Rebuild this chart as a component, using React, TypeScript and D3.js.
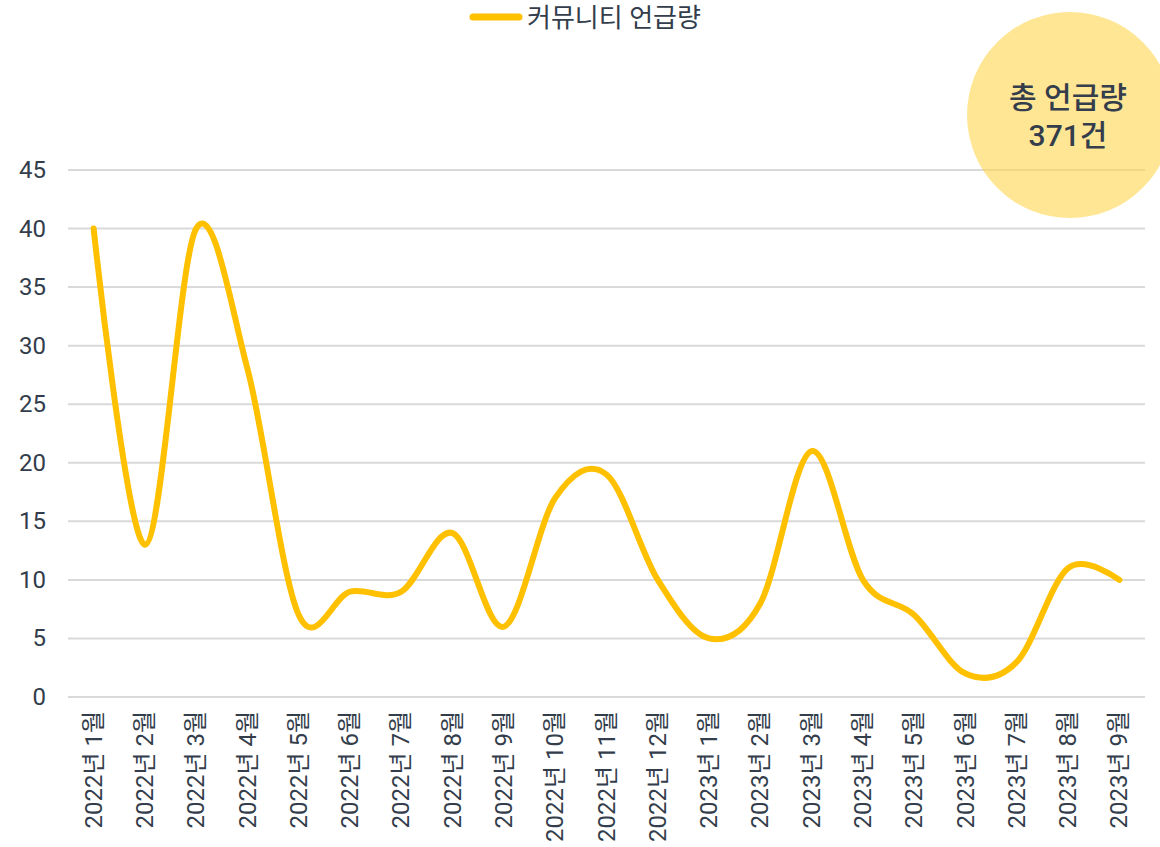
import React from "react";
import * as d3 from "d3";

const categories = [
  "2022년 1월", "2022년 2월", "2022년 3월", "2022년 4월", "2022년 5월", "2022년 6월",
  "2022년 7월", "2022년 8월", "2022년 9월", "2022년 10월", "2022년 11월", "2022년 12월",
  "2023년 1월", "2023년 2월", "2023년 3월", "2023년 4월", "2023년 5월", "2023년 6월",
  "2023년 7월", "2023년 8월", "2023년 9월",
];
const values = [40, 13, 40, 28, 7, 9, 9, 14, 6, 17, 19, 10, 5, 8, 21, 10, 7, 2, 3, 11, 10];
const yTicks = [0, 5, 10, 15, 20, 25, 30, 35, 40, 45];
const seriesName = "커뮤니티 언급량";
const badgeLines = ["총 언급량", "371건"];

const W = 1160;
const H = 847;
const left = 68;
const right = 1145;
const top = 170;
const bottom = 697;
const textColor = "#333d4b";
const font = "Roboto, 'Noto Sans CJK KR', sans-serif";

export default function App() {
  const x = d3.scaleBand<string>().domain(categories).range([left, right]);
  const y = d3.scaleLinear().domain([0, 45]).range([bottom, top]);
  const cx = (c: string) => (x(c) ?? 0) + x.bandwidth() / 2;
  const line = d3
    .line<number>()
    .x((_, i) => cx(categories[i]))
    .y((v) => y(v))
    .curve(d3.curveCardinal.tension(0));

  return (
    <svg
      width={W}
      height={H}
      style={{ position: "absolute", left: 0, top: 0, fontFamily: font }}
    >
      <rect width={W} height={H} fill="#fff" />
      {yTicks.map((t) => (
        <g key={t}>
          <line x1={left} x2={right} y1={y(t)} y2={y(t)} stroke="#d9d9d9" strokeWidth={2} />
          <text
            x={46}
            y={y(t)}
            textAnchor="end"
            dominantBaseline="central"
            fontSize={24}
            fill={textColor}
          >
            {t}
          </text>
        </g>
      ))}
      {categories.map((c) => (
        <text
          key={c}
          transform={`translate(${cx(c)},${bottom + 14}) rotate(-90)`}
          textAnchor="end"
          dominantBaseline="central"
          fontSize={24}
          fill={textColor}
        >
          {c}
        </text>
      ))}
      <path
        d={line(values) ?? ""}
        fill="none"
        stroke="#FFC000"
        strokeWidth={6}
        strokeLinecap="round"
        strokeLinejoin="round"
      />
      <circle cx={1070} cy={115} r={103} fill="#FFD54F" fillOpacity={0.6} />
      {badgeLines.map((s, i) => (
        <text
          key={s}
          x={1068}
          y={97 + i * 38}
          textAnchor="middle"
          dominantBaseline="central"
          fontSize={30}
          fontWeight={500}
          fill={textColor}
        >
          {s}
        </text>
      ))}
      <line x1={473} x2={519} y1={17} y2={17} stroke="#FFC000" strokeWidth={7} strokeLinecap="round" />
      <text x={527} y={18} dominantBaseline="central" fontSize={26} fill={textColor}>
        {seriesName}
      </text>
    </svg>
  );
}
